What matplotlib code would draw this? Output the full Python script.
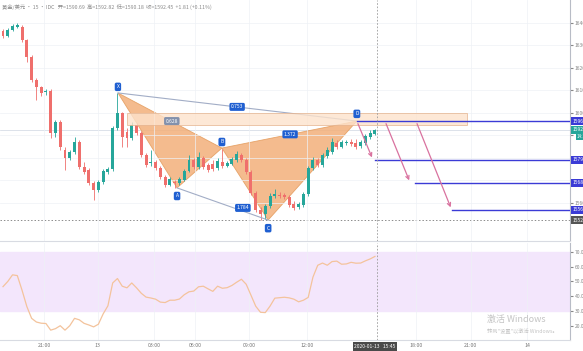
import numpy as np
import matplotlib.pyplot as plt
import matplotlib.transforms as mtransforms
from matplotlib.patches import Rectangle

plt.rcParams['font.family'] = ['Noto Sans CJK SC', 'DejaVu Sans']

# 15-minute candles, XAU/USD
opens = [1636.4, 1634.2, 1636.9, 1638.2, 1638.2, 1632.4, 1624.9, 1614.6, 1611.5, 1609.3,
         1609.8, 1591.1, 1596.0, 1583.5, 1580.0, 1582.7, 1587.1, 1576.0, 1574.7, 1568.9,
         1565.8, 1569.3, 1573.8, 1575.1, 1593.3, 1600.0, 1591.5, 1588.9, 1594.7, 1591.1,
         1581.3, 1577.8, 1578.2, 1575.6, 1571.5, 1568.0, 1569.3, 1568.9, 1570.2, 1574.2,
         1579.1, 1576.0, 1580.0, 1576.9, 1577.3, 1575.6, 1578.2, 1576.4, 1577.3, 1579.1,
         1581.3, 1579.1, 1573.8, 1564.4, 1556.9, 1555.1, 1558.7, 1563.1, 1563.5, 1563.5,
         1562.7, 1559.5, 1558.2, 1559.1, 1564.0, 1575.6, 1579.1, 1576.9, 1580.9, 1582.7,
         1586.6, 1584.9, 1586.6, 1587.1, 1586.6, 1585.3, 1586.6, 1589.3, 1590.69]
highs = [1637.3, 1637.8, 1639.5, 1640.0, 1639.1, 1632.9, 1625.8, 1615.5, 1612.0, 1610.6,
         1610.6, 1596.9, 1596.9, 1584.9, 1583.5, 1589.3, 1588.0, 1578.2, 1575.6, 1569.8,
         1570.2, 1575.1, 1576.0, 1594.2, 1608.9, 1600.4, 1593.3, 1596.0, 1595.5, 1592.0,
         1582.2, 1583.5, 1579.1, 1576.4, 1572.4, 1571.5, 1570.2, 1571.5, 1575.1, 1581.3,
         1580.0, 1582.7, 1580.9, 1577.8, 1579.1, 1580.0, 1584.0, 1578.6, 1580.4, 1583.1,
         1582.2, 1580.0, 1574.7, 1565.3, 1558.2, 1559.5, 1564.4, 1566.2, 1564.9, 1564.4,
         1563.5, 1560.9, 1560.4, 1564.9, 1576.4, 1580.4, 1580.0, 1582.2, 1584.9, 1588.9,
         1588.0, 1588.0, 1588.0, 1588.4, 1588.4, 1588.0, 1590.7, 1592.4, 1592.82]
lows = [1633.3, 1633.8, 1636.4, 1637.8, 1631.5, 1622.6, 1613.8, 1605.8, 1607.5, 1608.0,
        1588.9, 1589.3, 1583.5, 1574.7, 1579.1, 1581.8, 1575.1, 1572.9, 1568.0, 1561.3,
        1564.9, 1568.4, 1572.9, 1574.2, 1592.4, 1584.9, 1584.9, 1588.0, 1590.2, 1580.4,
        1576.0, 1576.4, 1574.7, 1570.7, 1567.1, 1567.5, 1566.7, 1568.0, 1569.8, 1573.8,
        1575.1, 1575.1, 1575.1, 1573.8, 1574.2, 1574.7, 1575.6, 1576.0, 1576.9, 1578.2,
        1578.2, 1572.9, 1563.5, 1556.0, 1552.4, 1552.9, 1557.8, 1562.2, 1562.2, 1561.8,
        1558.2, 1556.9, 1557.3, 1558.2, 1563.1, 1574.7, 1576.0, 1576.0, 1580.0, 1581.8,
        1584.0, 1584.4, 1585.8, 1585.3, 1584.0, 1584.4, 1585.8, 1588.4, 1590.18]
closes = [1634.2, 1636.9, 1638.6, 1639.1, 1632.4, 1624.9, 1614.6, 1611.5, 1608.9, 1609.8,
          1591.1, 1596.0, 1584.9, 1580.0, 1582.7, 1587.1, 1576.0, 1573.8, 1568.9, 1565.8,
          1569.3, 1574.2, 1575.1, 1593.3, 1600.0, 1589.3, 1588.9, 1594.7, 1591.1, 1581.3,
          1576.9, 1578.2, 1575.6, 1571.5, 1568.0, 1570.7, 1568.9, 1570.7, 1574.2, 1579.1,
          1576.0, 1580.4, 1576.0, 1574.7, 1575.1, 1578.6, 1576.4, 1577.8, 1579.5, 1581.8,
          1579.1, 1573.8, 1564.4, 1556.9, 1555.1, 1558.7, 1563.1, 1564.0, 1563.3, 1562.7,
          1559.1, 1557.8, 1559.5, 1564.0, 1575.6, 1579.1, 1576.9, 1581.3, 1583.5, 1587.1,
          1584.9, 1587.1, 1587.1, 1586.2, 1584.9, 1587.1, 1589.8, 1591.1, 1592.45]

rsi = [46.5, 50, 54.5, 54, 44, 33, 25, 22.5, 21.7, 21.5,
       17, 18, 20, 17, 20, 25, 24, 21.6, 20.5, 19.2,
       21, 28, 33.5, 49, 52, 46.8, 45.7, 49, 45.7, 42,
       39.4, 38.8, 38, 36, 35.7, 37.3, 37.3, 38.1, 41, 43,
       43.5, 46.4, 46.8, 45, 43.3, 46.8, 45.4, 45.8, 47.3, 49.5,
       51.5, 48.1, 40.7, 33.2, 29.1, 28.9, 33.3, 38.7, 39, 39.3,
       38.9, 38, 36.2, 37.3, 39.2, 53, 61, 62.5, 61, 63.5,
       63.8, 61.7, 61.9, 63, 62.4, 62.5, 64, 65.3, 67]

# harmonic pattern
pattern_names = ['X', 'A', 'B', 'C', 'D']
pattern_idx = [24.1, 36.5, 45.9, 55.6, 74.2]
pattern_price = [1608.9, 1566.7, 1584.4, 1552.4, 1596.4]
ratio_labels = ['0.628', '0.753', '1.784', '1.372']
ratio_x = [35.4, 49.1, 50.3, 60.2]
ratio_y = [1596.4, 1602.7, 1557.8, 1590.5]

target_prices = [1596.4, 1579.1, 1568.9, 1556.9]
target_start = [74.2, 78.0, 86.4, 94.1]
arrow_start = [74.2, 80.1, 86.6]
arrow_end = [77.6, 85.4, 94.1]

zone_x = [26.0, 97.3]
zone_price = [1594.7, 1600.0]
c_level = 1552.4
last_price = 1592.45
cursor_idx = 78.4

time_pos = [8.6, 19.9, 31.7, 40.3, 51.6, 63.7, 86.6, 98.1, 109.9]
time_labels = ['21:00', '13', '03:00', '06:00', '09:00', '12:00', '18:00', '21:00', '14']
price_ticks = [1560, 1570, 1580, 1590, 1600, 1610, 1620, 1630, 1640]
price_tick_labels = ['1560.00', '', '', '', '1600.00', '1610.00', '1620.00', '1630.00', '1640.00']
rsi_ticks = [20, 30, 40, 50, 60, 70]

up_col = '#26a69a'
down_col = '#ef6f6c'
blue_box = '#1f5fd1'
target_col = '#3b3bd6'

fig = plt.figure(figsize=(5.83, 3.51), dpi=100)
ax = fig.add_axes([0, 0.3134, 0.9777, 0.6866])
ax2 = fig.add_axes([0, 0.0313, 0.9777, 0.2764], sharex=ax)

# pattern triangles (under the candles)
ax.fill(pattern_idx[0:3], pattern_price[0:3], fc='#f3b07a', ec='#e39a5a', lw=0.6, alpha=0.85, zorder=1.5)
ax.fill(pattern_idx[2:5], pattern_price[2:5], fc='#f3b07a', ec='#e39a5a', lw=0.6, alpha=0.85, zorder=1.5)

# candles
idx = np.arange(len(opens))
o = np.array(opens); c = np.array(closes)
cols = [up_col if cc >= oo else down_col for oo, cc in zip(opens, closes)]
ax.vlines(idx, lows, highs, colors=cols, lw=0.6, zorder=2)
body = np.maximum(np.abs(c - o), 0.35)
ax.bar(idx, body, bottom=np.minimum(o, c), width=0.62, color=cols, zorder=2)

ax.plot([pattern_idx[0], pattern_idx[4]], [pattern_price[0], pattern_price[4]], color='#a2adc6', lw=0.8, zorder=3)
ax.plot([pattern_idx[1], pattern_idx[3]], [pattern_price[1], pattern_price[3]], color='#a2adc6', lw=0.8, zorder=3)

# PRZ zone
ax.add_patch(Rectangle((zone_x[0], zone_price[0]), zone_x[1] - zone_x[0], zone_price[1] - zone_price[0],
                       fc='#fde3cc', ec='#e4b08a', lw=0.6, alpha=0.8, zorder=4))

# point labels
offs = [2.7, -3.6, 2.7, -3.6, 3.2]
for n, xi, yi, of in zip(pattern_names, pattern_idx, pattern_price, offs):
    ax.text(xi, yi + of, n, ha='center', va='center', fontsize=3.6, color='white', zorder=6,
            bbox=dict(boxstyle='round,pad=0.35', fc=blue_box, ec='none'))
for i, (t, xi, yi) in enumerate(zip(ratio_labels, ratio_x, ratio_y)):
    fc = '#8391ac' if i == 0 else blue_box
    ax.text(xi, yi, t, ha='center', va='center', fontsize=3.6, color='white', zorder=6,
            bbox=dict(boxstyle='round,pad=0.3', fc=fc, ec='none'))

# targets
for xs, p in zip(target_start, target_prices):
    ax.plot([xs, 125], [p, p], color=target_col, lw=1.0, zorder=5)
for xs, xe, p in zip(arrow_start, arrow_end, target_prices[1:]):
    ax.annotate('', xy=(xe, p), xytext=(xs, target_prices[0]),
                arrowprops=dict(arrowstyle='->', color='#d9729f', lw=0.9, mutation_scale=6), zorder=5)

ax.axhline(c_level, color='#8c8c8c', ls=(0, (1.5, 2)), lw=0.7, zorder=1)
ax.axhline(last_price, color='#cfd6e2', lw=0.5, zorder=1)
for a in (ax, ax2):
    a.axvline(cursor_idx, color='#9a9a9a', ls=(0, (2, 2)), lw=0.6, zorder=5)

ax.set_xlim(-0.63, 118.9)
ax.set_ylim(1543.1, 1650.2)
ax.set_yticks(price_ticks)
ax.set_yticklabels(price_tick_labels)
ax.set_xticks(time_pos)
ax.grid(color='#eef1f6', lw=0.5, zorder=0)
ax.yaxis.tick_right()
ax.tick_params(axis='y', labelsize=3.6, colors='#888888', length=2, pad=1.5)
ax.tick_params(axis='x', labelbottom=False, length=0)
for s in ['top', 'left']:
    ax.spines[s].set_visible(False)
ax.spines['right'].set_color('#b8bcc6')
ax.spines['bottom'].set_color('#d8dbe2')

# right-side price labels
trans = mtransforms.blended_transform_factory(ax.transAxes, ax.transData)
side = [(target_prices[0], target_col), (last_price, up_col), (target_prices[1], target_col),
        (target_prices[2], target_col), (target_prices[3], target_col), (c_level, '#555555')]
for p, fc in side:
    ax.text(1.004, p, f'{p:.2f}', transform=trans, ha='left', va='center', fontsize=3.6,
            color='white', clip_on=False, zorder=7, bbox=dict(boxstyle='square,pad=0.3', fc=fc, ec='none'))
ax.text(1.012, last_price - 2.9, '14:11', transform=trans, ha='left', va='center', fontsize=3.2,
        color='white', clip_on=False, bbox=dict(boxstyle='square,pad=0.25', fc=up_col, ec='none'))

# RSI panel
ax2.axhspan(30, 70, color='#f3e6fc', zorder=0)
ax2.plot(idx, rsi, color='#f3c39c', lw=0.9, zorder=3)
ax2.set_ylim(10.3, 76.1)
ax2.set_yticks(rsi_ticks)
ax2.set_yticklabels([f'{v:.2f}' for v in rsi_ticks])
ax2.yaxis.tick_right()
ax2.set_xticks(time_pos)
ax2.set_xticklabels(time_labels)
ax2.grid(axis='x', color='#eef1f6', lw=0.5, zorder=0)
ax2.tick_params(axis='y', labelsize=3.6, colors='#888888', length=2, pad=1.5)
ax2.tick_params(axis='x', labelsize=3.8, colors='#777777', length=0, pad=2.5)
for s in ['top', 'left']:
    ax2.spines[s].set_visible(False)
ax2.spines['right'].set_color('#b8bcc6')
ax2.spines['bottom'].set_color('#d8dbe2')

bt = mtransforms.blended_transform_factory(ax2.transData, ax2.transAxes)
ax2.text(78.0, -0.065, '2020-01-13   15:45', transform=bt, ha='center', va='center', fontsize=3.6,
         color='white', clip_on=False, zorder=7, bbox=dict(boxstyle='square,pad=0.35', fc='#4a4a4a', ec='none'))

fig.text(0.004, 0.988, '黄金/美元 · 15 · IDC   开=1590.69  高=1592.82  低=1590.18  收=1592.45  +1.81 (+0.11%)',
         fontsize=3.8, color='#8a8a8a', va='top')
fig.text(0.835, 0.082, '激活 Windows', fontsize=6.5, color='#c4c4c4')
fig.text(0.835, 0.052, '转到"设置"以激活 Windows。', fontsize=3.8, color='#c4c4c4')

fig.savefig('out.png', dpi=100, facecolor='white')
